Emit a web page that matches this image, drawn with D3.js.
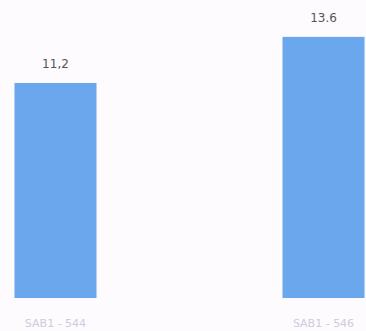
<!DOCTYPE html>
<html><head><meta charset="utf-8">
<script src="https://cdn.jsdelivr.net/npm/d3@7"></script>
<style>html,body{margin:0;padding:0;background:#fdfbfd;}svg{display:block;}</style>
</head><body>
<script>
const categories = ["SAB1 - 544", "SAB1 - 546"];
const values = [11.2, 13.6];
const valueLabels = ["11,2", "13.6"];

const W = 366, H = 331;
const svg = d3.select("body").append("svg").attr("width", W).attr("height", H);
svg.append("rect").attr("width", W).attr("height", H).attr("fill", "#fdfbfd");

const x = d3.scaleBand().domain(categories).range([0, 379]).paddingInner(0.694).paddingOuter(0.054);
const y = d3.scaleLinear().domain([0, 15]).range([298, 10]);

svg.selectAll("rect.bar").data(values).join("rect").attr("class", "bar")
  .attr("x", (d, i) => x(categories[i]))
  .attr("width", x.bandwidth())
  .attr("y", d => y(d))
  .attr("height", d => y(0) - y(d))
  .attr("fill", "#6aa7ec");

svg.selectAll("text.val").data(values).join("text").attr("class", "val")
  .attr("x", (d, i) => x(categories[i]) + x.bandwidth() / 2)
  .attr("y", d => y(d) - 15)
  .attr("text-anchor", "middle")
  .attr("font-family", "DejaVu Sans")
  .attr("font-size", 12)
  .attr("fill", "#555")
  .text((d, i) => valueLabels[i]);

const axis = d3.axisBottom(x).tickSize(0).tickPadding(0);
const g = svg.append("g").attr("transform", `translate(0,${y(0)})`).call(axis);
g.select(".domain").remove();
g.selectAll("text")
  .attr("dy", 0).attr("y", 29)
  .attr("font-family", "DejaVu Sans")
  .attr("font-size", 11)
  .attr("fill", "#cfcbe0");
</script>
</body></html>
